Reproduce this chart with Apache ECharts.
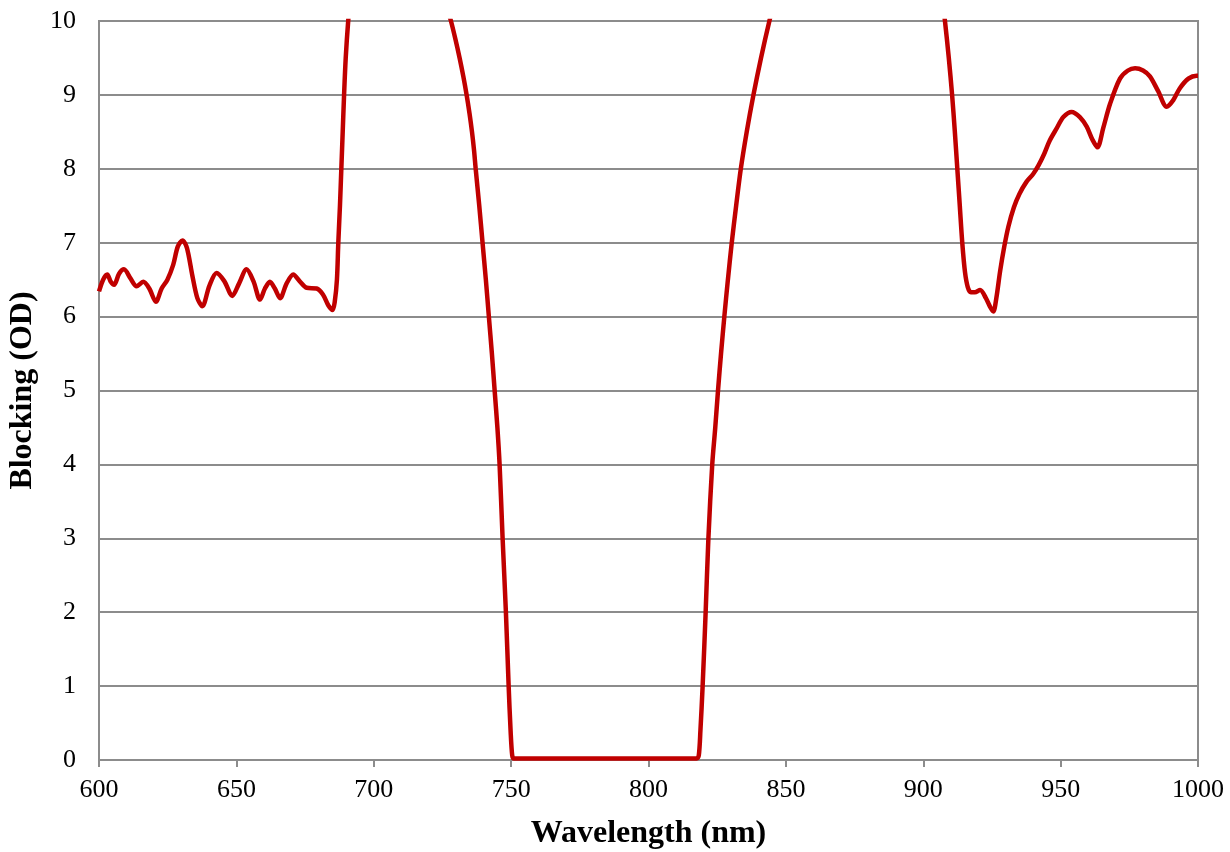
<!DOCTYPE html>
<html>
<head>
<meta charset="utf-8">
<script src="https://cdn.jsdelivr.net/npm/echarts@6/dist/echarts.min.js"></script>
<style>html,body{margin:0;padding:0;background:#fff;}#c{width:1230px;height:852px;}</style>
</head>
<body>
<div id="c"></div>
<script>
var wavelength = [600,601.5,603,604.3,605.5,607.3,609.1,611.4,613.7,616.1,618.3,620.7,622.8,624.9,627,628.7,630.4,632,634,635.8,637.6,640.2,642.8,645.6,648.5,651,653.7,656.2,658.6,660.4,662.2,664,665.9,668.3,670.7,673,675.6,679.2,681.5,683.5,685,685.8,686.6,687.1,687.7,688.2,688.7,689.2,689.8,690.7,691.9,693.5,707,716,720,724.35,728.1,729.75,731.25,732.6,733.8,734.85,735.75,736.5,737.1,738.4,739.6,740.8,741.9,743,744,745,745.8,746.9,748.1,749.1,749.8,750.4,751,760,770,780,790,800,810,817.5,818.3,818.9,819.7,820.8,821.8,823.2,824.3,825.3,826.4,827.6,828.9,830.3,831.9,833.6,835.75,838.2,840.95,844,847.35,851,878,902,904.5,906.3,907.9,909.3,910.5,911.5,912.4,913.3,914.2,915.2,916.2,917.3,918.8,920.7,922.8,924.5,925.5,926.6,928,929.5,931,933,935,937.5,940,942,944,946,948.6,951,954,957,959.5,961.5,963.4,965.5,968,971.6,974.5,977.1,980,982.5,985.5,988.6,991,993.4,996.5,999.5,1000];
var blocking = [6.34,6.5,6.57,6.47,6.43,6.58,6.64,6.52,6.41,6.47,6.38,6.2,6.38,6.5,6.7,6.95,7.03,6.93,6.55,6.25,6.14,6.42,6.59,6.48,6.28,6.45,6.64,6.48,6.23,6.38,6.47,6.38,6.25,6.45,6.57,6.48,6.39,6.38,6.3,6.15,6.09,6.2,6.5,7.0,7.5,8.0,8.5,9.0,9.5,10.0,10.5,11.0,12,12,11.5,10.5,10.0,9.75,9.5,9.25,9.0,8.75,8.5,8.25,8.0,7.5,7.0,6.5,6.0,5.5,5.0,4.5,4.0,3.0,2.0,1.0,0.4,0.06,0.02,0.02,0.02,0.02,0.02,0.02,0.02,0.02,0.06,0.4,1.0,2.0,3.0,4.0,4.5,5.0,5.5,6.0,6.5,7.0,7.5,8.0,8.5,9.0,9.5,10.0,10.5,11,12,11.5,11,10.5,10.0,9.5,9.0,8.5,8.0,7.5,7.0,6.6,6.4,6.33,6.33,6.36,6.25,6.12,6.07,6.25,6.62,6.95,7.22,7.48,7.66,7.82,7.93,8.05,8.2,8.38,8.55,8.7,8.77,8.7,8.57,8.4,8.29,8.55,8.88,9.22,9.33,9.36,9.33,9.25,9.05,8.84,8.93,9.09,9.22,9.26,9.26];
var xTicks = [600,650,700,750,800,850,900,950,1000];
var yTicks = [0,1,2,3,4,5,6,7,8,9,10];

var pts = wavelength.map(function(w,i){return [w, blocking[i]];});
var chart = echarts.init(document.getElementById('c'), null, {renderer:'canvas'});
var font = 'Liberation Serif, Times New Roman, serif';
chart.setOption({
  animation:false,
  backgroundColor:'#ffffff',
  grid:{left:99,right:32,top:21,bottom:92,show:true,borderColor:'#8c8c8c',borderWidth:2,backgroundColor:'transparent',containLabel:false,outerBoundsMode:'none'},
  xAxis:{type:'value',min:xTicks[0],max:xTicks[xTicks.length-1],interval:50,
    name:'Wavelength (nm)',nameLocation:'middle',nameGap:58,
    nameTextStyle:{fontFamily:font,fontSize:32,fontWeight:'bold',color:'#000'},
    axisLine:{show:true,lineStyle:{color:'#8c8c8c',width:2}},
    axisTick:{show:true,length:7,lineStyle:{color:'#8c8c8c',width:2}},
    axisLabel:{fontFamily:font,fontSize:26,color:'#000',margin:17,formatter:function(v){return String(v);}},
    splitLine:{show:false}},
  yAxis:{type:'value',min:yTicks[0],max:yTicks[yTicks.length-1],interval:1,
    name:'Blocking (OD)',nameLocation:'middle',nameGap:55,
    nameTextStyle:{fontFamily:font,fontSize:32,fontWeight:'bold',color:'#000'},
    axisLine:{show:true,lineStyle:{color:'#8c8c8c',width:2}},
    axisTick:{show:false},
    axisLabel:{fontFamily:font,fontSize:26,color:'#000',margin:23},
    splitLine:{show:true,lineStyle:{color:'#8c8c8c',width:2}}},
  series:[{type:'line',data:pts,smooth:0.3,symbol:'none',clip:true,
    lineStyle:{color:'#c00000',width:4.5}}]
});
</script>
</body>
</html>
